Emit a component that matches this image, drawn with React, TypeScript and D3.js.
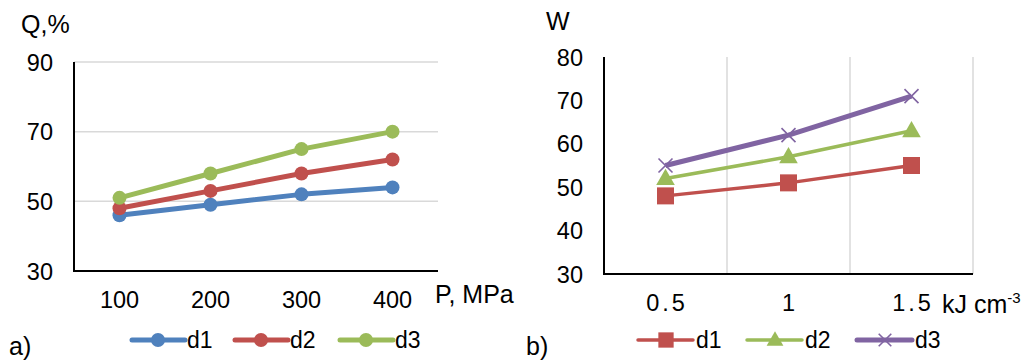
import React from "react";
import * as d3 from "d3";

// panel a)
const pressures = ["100", "200", "300", "400"];
const qTicks = [30, 50, 70, 90];
const qD1 = [46, 49, 52, 54];
const qD2 = [48, 53, 58, 62];
const qD3 = [51, 58, 65, 70];

// panel b)
const energies = ["0.5", "1", "1.5"];
const wTicks = [30, 40, 50, 60, 70, 80];
const wD1 = [48, 51, 55];
const wD2 = [52, 57, 63];
const wD3 = [55, 62, 71];

const seriesNames = ["d1", "d2", "d3"];

const FONT = "'Liberation Sans', Arial, sans-serif";
const BLUE = "#4f81bd";
const RED = "#c0504d";
const GREEN = "#9bbb59";
const PURPLE = "#8064a2";
const GRID = "#d9d9d9";
const TICK_FS = 23.5;
const TITLE_FS = 25;
const LEGEND_FS = 23;

const Marker = ({ kind, x, y, color, s = 1 }: { kind: string; x: number; y: number; color: string; s?: number }) => {
  if (kind === "circle") return <circle cx={x} cy={y} r={7 * s} fill={color} />;
  if (kind === "square")
    return <rect x={x - 8.5 * s} y={y - 8.5 * s} width={17 * s} height={17 * s} fill={color} />;
  if (kind === "triangle")
    return (
      <path d={d3.symbol(d3.symbolTriangle, 150 * s * s)() || ""} transform={`translate(${x},${y + 1})`} fill={color} />
    );
  const h = 7 * s;
  return (
    <path
      d={`M${x - h},${y - h}L${x + h},${y + h}M${x - h},${y + h}L${x + h},${y - h}`}
      stroke={color}
      strokeWidth={1.6}
      fill="none"
    />
  );
};

const PanelA = () => {
  const x = d3.scaleBand().domain(pressures).range([74, 438]);
  const y = d3.scaleLinear().domain([30, 90]).range([271, 62]);
  const data = [qD1, qD2, qD3];
  const colors = [BLUE, RED, GREEN];
  const cx = (i: number) => (x(pressures[i]) as number) + x.bandwidth() / 2;
  const line = d3
    .line<number>()
    .x((_, i) => cx(i))
    .y((d) => y(d));
  const legendX = [132, 235, 340];

  return (
    <g>
      {qTicks.slice(1).map((t) => (
        <line key={t} x1={74} x2={438} y1={y(t)} y2={y(t)} stroke={GRID} strokeWidth={1.5} />
      ))}
      <line x1={74} x2={74} y1={62} y2={272} stroke="#000" strokeWidth={2} />
      <line x1={73} x2={438} y1={271} y2={271} stroke="#000" strokeWidth={2} />
      {qTicks.map((t) => (
        <text key={t} x={53} y={y(t) + 8.5} textAnchor="end" fontSize={TICK_FS}>
          {t}
        </text>
      ))}
      {pressures.map((p, i) => (
        <text key={p} x={cx(i)} y={308} textAnchor="middle" fontSize={TICK_FS}>
          {p}
        </text>
      ))}
      <text x={21} y={33} fontSize={TITLE_FS}>Q,%</text>
      <text x={435} y={303} fontSize={TITLE_FS}>P, MPa</text>
      {data.map((s, k) => (
        <g key={k}>
          <path d={line(s) || ""} fill="none" stroke={colors[k]} strokeWidth={5} strokeLinejoin="round" />
          {s.map((v, i) => (
            <Marker key={i} kind="circle" x={cx(i)} y={y(v)} color={colors[k]} />
          ))}
        </g>
      ))}
      {seriesNames.map((n, k) => (
        <g key={n}>
          <line x1={legendX[k]} x2={legendX[k] + 53} y1={340} y2={340} stroke={colors[k]} strokeWidth={5} strokeLinecap="round" />
          <Marker kind="circle" x={legendX[k] + 26} y={340} color={colors[k]} />
          <text x={legendX[k] + 55} y={348} fontSize={LEGEND_FS}>{n}</text>
        </g>
      ))}
      <text x={9} y={355} fontSize={TITLE_FS}>a)</text>
    </g>
  );
};

const PanelB = () => {
  const x = d3.scaleBand().domain(energies).range([604, 973]);
  const y = d3.scaleLinear().domain([30, 80]).range([274, 57]);
  const data = [wD1, wD2, wD3];
  const colors = [RED, GREEN, PURPLE];
  const kinds = ["square", "triangle", "cross"];
  const widths = [3.5, 3.5, 5];
  const cx = (i: number) => (x(energies[i]) as number) + x.bandwidth() / 2;
  const line = d3
    .line<number>()
    .x((_, i) => cx(i))
    .y((d) => y(d));
  const legendX = [638, 747, 857];

  return (
    <g>
      {energies.map((e) => (
        <line
          key={e}
          x1={(x(e) as number) + x.bandwidth()}
          x2={(x(e) as number) + x.bandwidth()}
          y1={57}
          y2={274}
          stroke={GRID}
          strokeWidth={1.5}
        />
      ))}
      <line x1={604} x2={604} y1={57} y2={275} stroke="#000" strokeWidth={2} />
      <line x1={603} x2={973} y1={274} y2={274} stroke="#000" strokeWidth={2} />
      {wTicks.map((t) => (
        <text key={t} x={583} y={y(t) + 8.5} textAnchor="end" fontSize={TICK_FS}>
          {t}
        </text>
      ))}
      {energies.map((e, i) => (
        <text key={e} x={cx(i) + 1.5} y={311} textAnchor="middle" fontSize={TICK_FS} letterSpacing={3}>
          {e}
        </text>
      ))}
      <text x={546} y={30} fontSize={TITLE_FS}>W</text>
      <text x={942} y={313} fontSize={TITLE_FS}>
        kJ cm<tspan dy={-10} fontSize={15}>-3</tspan>
      </text>
      {data.map((s, k) => (
        <g key={k}>
          <path d={line(s) || ""} fill="none" stroke={colors[k]} strokeWidth={widths[k]} strokeLinejoin="round" />
          {s.map((v, i) => (
            <Marker key={i} kind={kinds[k]} x={cx(i)} y={y(v)} color={colors[k]} />
          ))}
        </g>
      ))}
      {seriesNames.map((n, k) => (
        <g key={n}>
          <line x1={legendX[k]} x2={legendX[k] + 55} y1={340} y2={340} stroke={colors[k]} strokeWidth={widths[k]} strokeLinecap="round" />
          <Marker kind={kinds[k]} x={legendX[k] + 28} y={340} color={colors[k]} s={0.9} />
          <text x={legendX[k] + 58} y={348} fontSize={LEGEND_FS}>{n}</text>
        </g>
      ))}
      <text x={526} y={355} fontSize={TITLE_FS}>b)</text>
    </g>
  );
};

export default function App() {
  return (
    <svg
      width={1031}
      height={361}
      style={{ position: "absolute", left: 0, top: 0, background: "#fff" }}
      fontFamily={FONT}
      fill="#000"
    >
      <PanelA />
      <PanelB />
    </svg>
  );
}
